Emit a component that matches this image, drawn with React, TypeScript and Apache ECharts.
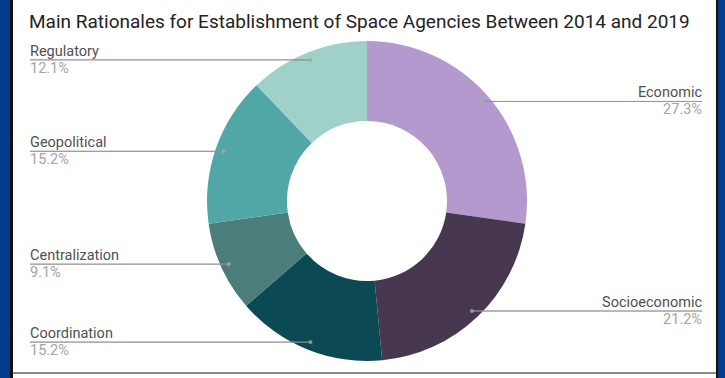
import React, { useEffect, useRef } from "react";
import * as echarts from "echarts";

const titleText = "Main Rationales for Establishment of Space Agencies Between 2014 and 2019";
const categories = ["Economic", "Socioeconomic", "Coordination", "Centralization", "Geopolitical", "Regulatory"];
const counts = [9, 7, 5, 3, 5, 4];
const percents = ["27.3%", "21.2%", "15.2%", "9.1%", "15.2%", "12.1%"];
const colors = ["#b499cf", "#48384f", "#0b4a55", "#4b7e7b", "#51a6a6", "#9fd1c9"];

export default function App() {
  const ref = useRef<HTMLDivElement>(null);
  useEffect(() => {
    if (!ref.current) return;
    const chart = echarts.init(ref.current, undefined, { renderer: "svg" });
    const total = counts.reduce((a, b) => a + b, 0);
    const mids: number[] = [];
    let acc = 0;
    counts.forEach((c) => {
      mids.push(acc + c / 2);
      acc += c;
    });
    const cx = 367;
    const cy = 201;
    const dotR = 152;
    const leftEdge = 30;
    const rightEdge = 702;
    const data = categories.map((name, i) => ({
      name,
      value: counts[i],
      itemStyle: { color: colors[i] },
    }));
    const richFor = (w: number) => ({
      n: { fontFamily: "Roboto", fontSize: 14.5, color: "#505050", lineHeight: 17, height: 17 },
      hr: { width: w, height: 0, borderWidth: 0.8, borderColor: "#8f8f8f" },
      p: { fontFamily: "Roboto", fontSize: 14.5, color: "#a3a3a3", lineHeight: 17, height: 17 },
    });
    const labelData = categories.map((name, i) => {
      const ang = (mids[i] / total) * Math.PI * 2;
      const dotX = cx + dotR * Math.sin(ang);
      const isRight = Math.sin(ang) > 0;
      const w = isRight ? rightEdge - dotX : dotX - leftEdge;
      return {
        name,
        value: counts[i],
        pct: percents[i],
        label: { rich: richFor(w) },
      };
    });
    chart.setOption({
      animation: false,
      backgroundColor: "#ffffff",
      title: {
        text: titleText,
        left: 24,
        top: 7,
        textStyle: { fontFamily: "Roboto", fontSize: 19, fontWeight: "normal", color: "#222222" },
      },
      graphic: [
        { type: "rect", shape: { x: 0, y: 0, width: 10, height: 378 }, style: { fill: "#033b8c" } },
        { type: "rect", shape: { x: 10, y: 0, width: 3, height: 378 }, style: { fill: "#111111" } },
        { type: "rect", shape: { x: 716, y: 0, width: 2, height: 378 }, style: { fill: "#111111" } },
        { type: "rect", shape: { x: 718, y: 0, width: 7, height: 378 }, style: { fill: "#033b8c" } },
        { type: "rect", shape: { x: 13, y: 372, width: 703, height: 2 }, style: { fill: "#8a8a8a" } },
      ],
      polar: { center: [cx, cy], radius: 160 },
      angleAxis: { type: "value", min: 0, max: total, startAngle: 90, clockwise: true, show: false },
      radiusAxis: { type: "value", min: 0, max: 160, show: false },
      series: [
        {
          type: "pie",
          center: [cx, cy],
          radius: [80, 160],
          startAngle: 90,
          clockwise: true,
          silent: true,
          label: { show: false },
          labelLine: { show: false },
          data,
        },
        {
          type: "pie",
          left: leftEdge,
          right: 725 - rightEdge,
          top: 0,
          bottom: 0,
          center: [cx - leftEdge, cy],
          radius: [0, dotR],
          startAngle: 90,
          clockwise: true,
          silent: true,
          itemStyle: { color: "rgba(255,255,255,0)" },
          avoidLabelOverlap: false,
          label: {
            show: true,
            alignTo: "edge",
            edgeDistance: 0,
            formatter: (p: any) => `{n|${p.name}}\n{hr|}\n{p|${p.data.pct}}`,
            rich: richFor(150),
          },
          labelLine: { show: false, length: 0, length2: 0 },
          data: labelData,
        },
        {
          type: "scatter",
          coordinateSystem: "polar",
          symbolSize: 4,
          silent: true,
          itemStyle: { color: "#a8a8a8" },
          data: mids.map((m) => [dotR, m]),
        },
      ],
    });
    return () => chart.dispose();
  }, []);
  return (
    <div
      ref={ref}
      style={{ position: "fixed", left: 0, top: 0, width: 725, height: 378, background: "#fff" }}
    />
  );
}
